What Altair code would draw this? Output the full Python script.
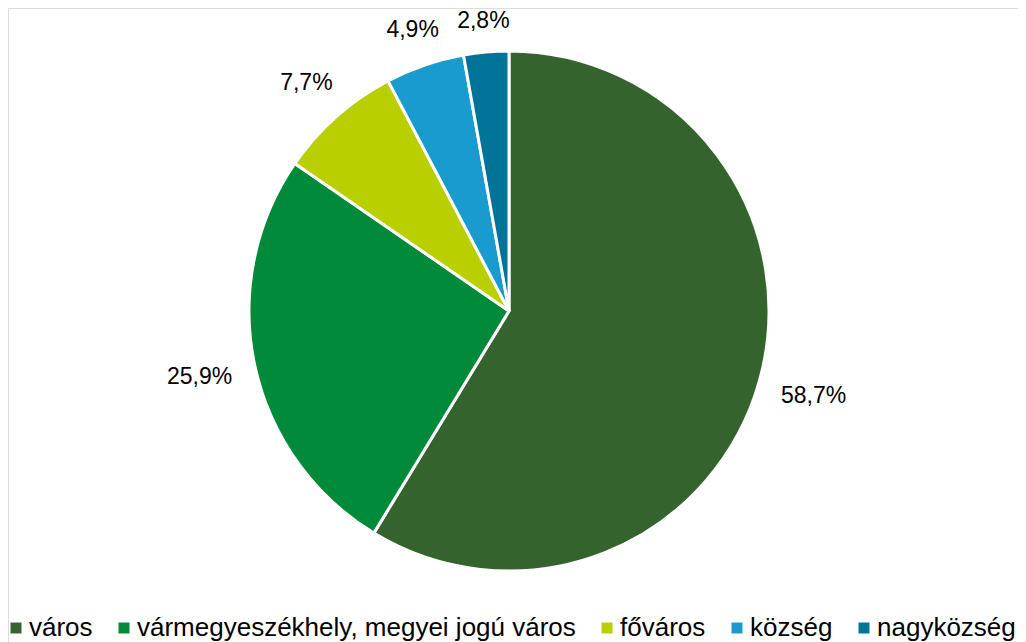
import altair as alt
import pandas as pd

categories = ["város", "vármegyeszékhely, megyei jogú város", "főváros", "község", "nagyközség"]
values = [58.7, 25.9, 7.7, 4.9, 2.8]
labels = ["58,7%", "25,9%", "7,7%", "4,9%", "2,8%"]
colors = ["#35632D", "#008A39", "#B9CF00", "#199BCF", "#007399"]

df = pd.DataFrame({"cat": categories, "val": values, "label": labels, "order": list(range(len(categories)))})

CX, CY, R = 501, 303, 260

arcs = alt.Chart(df).mark_arc(outerRadius=R, stroke="white", strokeWidth=3).encode(
    theta=alt.Theta("val:Q", stack=True),
    order=alt.Order("order:Q", sort="ascending"),
    x=alt.value(CX),
    y=alt.value(CY),
    color=alt.Color(
        "cat:N",
        scale=alt.Scale(domain=categories, range=colors),
        legend=alt.Legend(
            title=None,
            orient="none",
            direction="horizontal",
            legendX=-5,
            legendY=607,
            padding=0,
            symbolType="square",
            symbolSize=120,
            symbolStrokeWidth=0,
            labelFont="Liberation Sans",
            labelFontSize=26,
            labelColor="#000000",
            labelOffset=0,
            columnPadding=18,
            labelLimit=600,
        ),
    ),
)

# outside-end labels: distance grows with the label's extent in the radial direction
text = (
    alt.Chart(df)
    .transform_window(cum="sum(val)", sort=[alt.SortField("order")])
    .transform_calculate(mid="(datum.cum - datum.val / 2) / 100 * 2 * PI")
    .transform_calculate(
        rad=f"{R + 21} + abs(sin(datum.mid)) * length(datum.label) * 6.9 + abs(cos(datum.mid)) * 8"
    )
    .transform_calculate(
        px=f"{CX} + datum.rad * sin(datum.mid)",
        py=f"{CY} - datum.rad * cos(datum.mid)",
    )
    .mark_text(font="Liberation Sans", fontSize=23, color="#000000", baseline="middle")
    .encode(
        text="label:N",
        x=alt.X("px:Q", scale=None, axis=None),
        y=alt.Y("py:Q", scale=None, axis=None),
    )
)

chart = (arcs + text).properties(
    width=1010, height=634, autosize=alt.AutoSizeParams(type="none"), padding=0
).configure_view(stroke=None).configure(background="white")

chart.save("out.html", embed_options={"renderer": "svg", "actions": False})
